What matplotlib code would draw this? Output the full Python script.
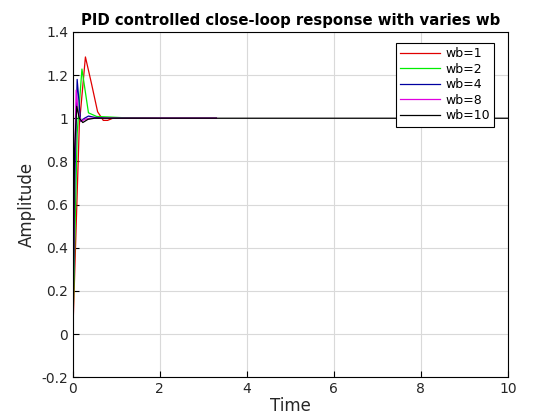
import matplotlib
matplotlib.use("Agg")
import matplotlib.pyplot as plt

# step responses (time, amplitude)
t_wb1 = [0, 0.15, 0.29, 0.43, 0.57, 0.70, 0.80, 0.92, 1.2, 2.0, 3.3]
y_wb1 = [0, 0.97, 1.284, 1.16, 1.03, 0.99, 0.99, 1.0, 1.002, 1.0, 1.0]

t_wb2 = [0, 0.10, 0.21, 0.36, 0.55, 0.8, 1.2, 2.0, 3.3]
y_wb2 = [0, 0.93, 1.228, 1.025, 1.008, 1.006, 1.002, 1.0, 1.0]

t_wb4 = [0, 0.05, 0.10, 0.18, 0.27, 0.36, 0.5, 0.8, 2.0, 3.3]
y_wb4 = [0, 0.75, 1.18, 0.986, 1.0, 1.01, 1.004, 1.0, 1.0, 1.0]

t_wb8 = [0, 0.04, 0.077, 0.12, 0.19, 0.28, 0.4, 0.8, 2.0, 3.3]
y_wb8 = [0, 0.8, 1.13, 1.03, 0.986, 0.995, 1.0, 1.0, 1.0, 1.0]

t_wb10 = [0, 0.04, 0.09, 0.15, 0.23, 0.35, 0.5, 1.0, 5.0, 10.0]
y_wb10 = [0, 0.85, 1.055, 1.0, 0.98, 0.995, 1.0, 1.0, 1.0, 1.0]

labels = ['wb=1', 'wb=2', 'wb=4', 'wb=8', 'wb=10']
colors = ['#e00000', '#00ee00', '#0000a0', '#e000e0', '#000000']

fig = plt.figure(figsize=(5.6, 4.2), dpi=100)
ax = fig.add_axes([0.130, 0.102, 0.777, 0.822])

series = [(t_wb1, y_wb1), (t_wb2, y_wb2), (t_wb4, y_wb4),
          (t_wb8, y_wb8), (t_wb10, y_wb10)]
for (t, y), lab, c in zip(series, labels, colors):
    ax.plot(t, y, color=c, linewidth=0.9, label=lab)

ax.set_xlim(0, 10)
ax.set_ylim(-0.2, 1.4)
ax.set_xticks([0, 2, 4, 6, 8, 10])
ax.set_yticks([-0.2, 0, 0.2, 0.4, 0.6, 0.8, 1, 1.2, 1.4])
ax.set_yticklabels(['-0.2', '0', '0.2', '0.4', '0.6', '0.8', '1', '1.2', '1.4'])
ax.tick_params(direction='in', labelsize=10, length=4, labelcolor='#262626')
ax.grid(True, color='#d9d9d9', linewidth=0.8)
ax.set_axisbelow(True)

ax.set_title('PID controlled close-loop response with varies wb',
             fontsize=10.7, fontweight='bold', pad=5)
ax.set_xlabel('Time', fontsize=12, labelpad=1, color='#262626')
ax.set_ylabel('Amplitude', fontsize=12, color='#262626')

leg = ax.legend(loc='upper right', fontsize=9, fancybox=False,
                framealpha=1, edgecolor='black', handlelength=3.2,
                handletextpad=0.4, borderpad=0.35, labelspacing=0.2,
                borderaxespad=0, bbox_to_anchor=(0.968, 0.968))
leg.get_frame().set_linewidth(0.8)

fig.savefig('out.png', dpi=100)
